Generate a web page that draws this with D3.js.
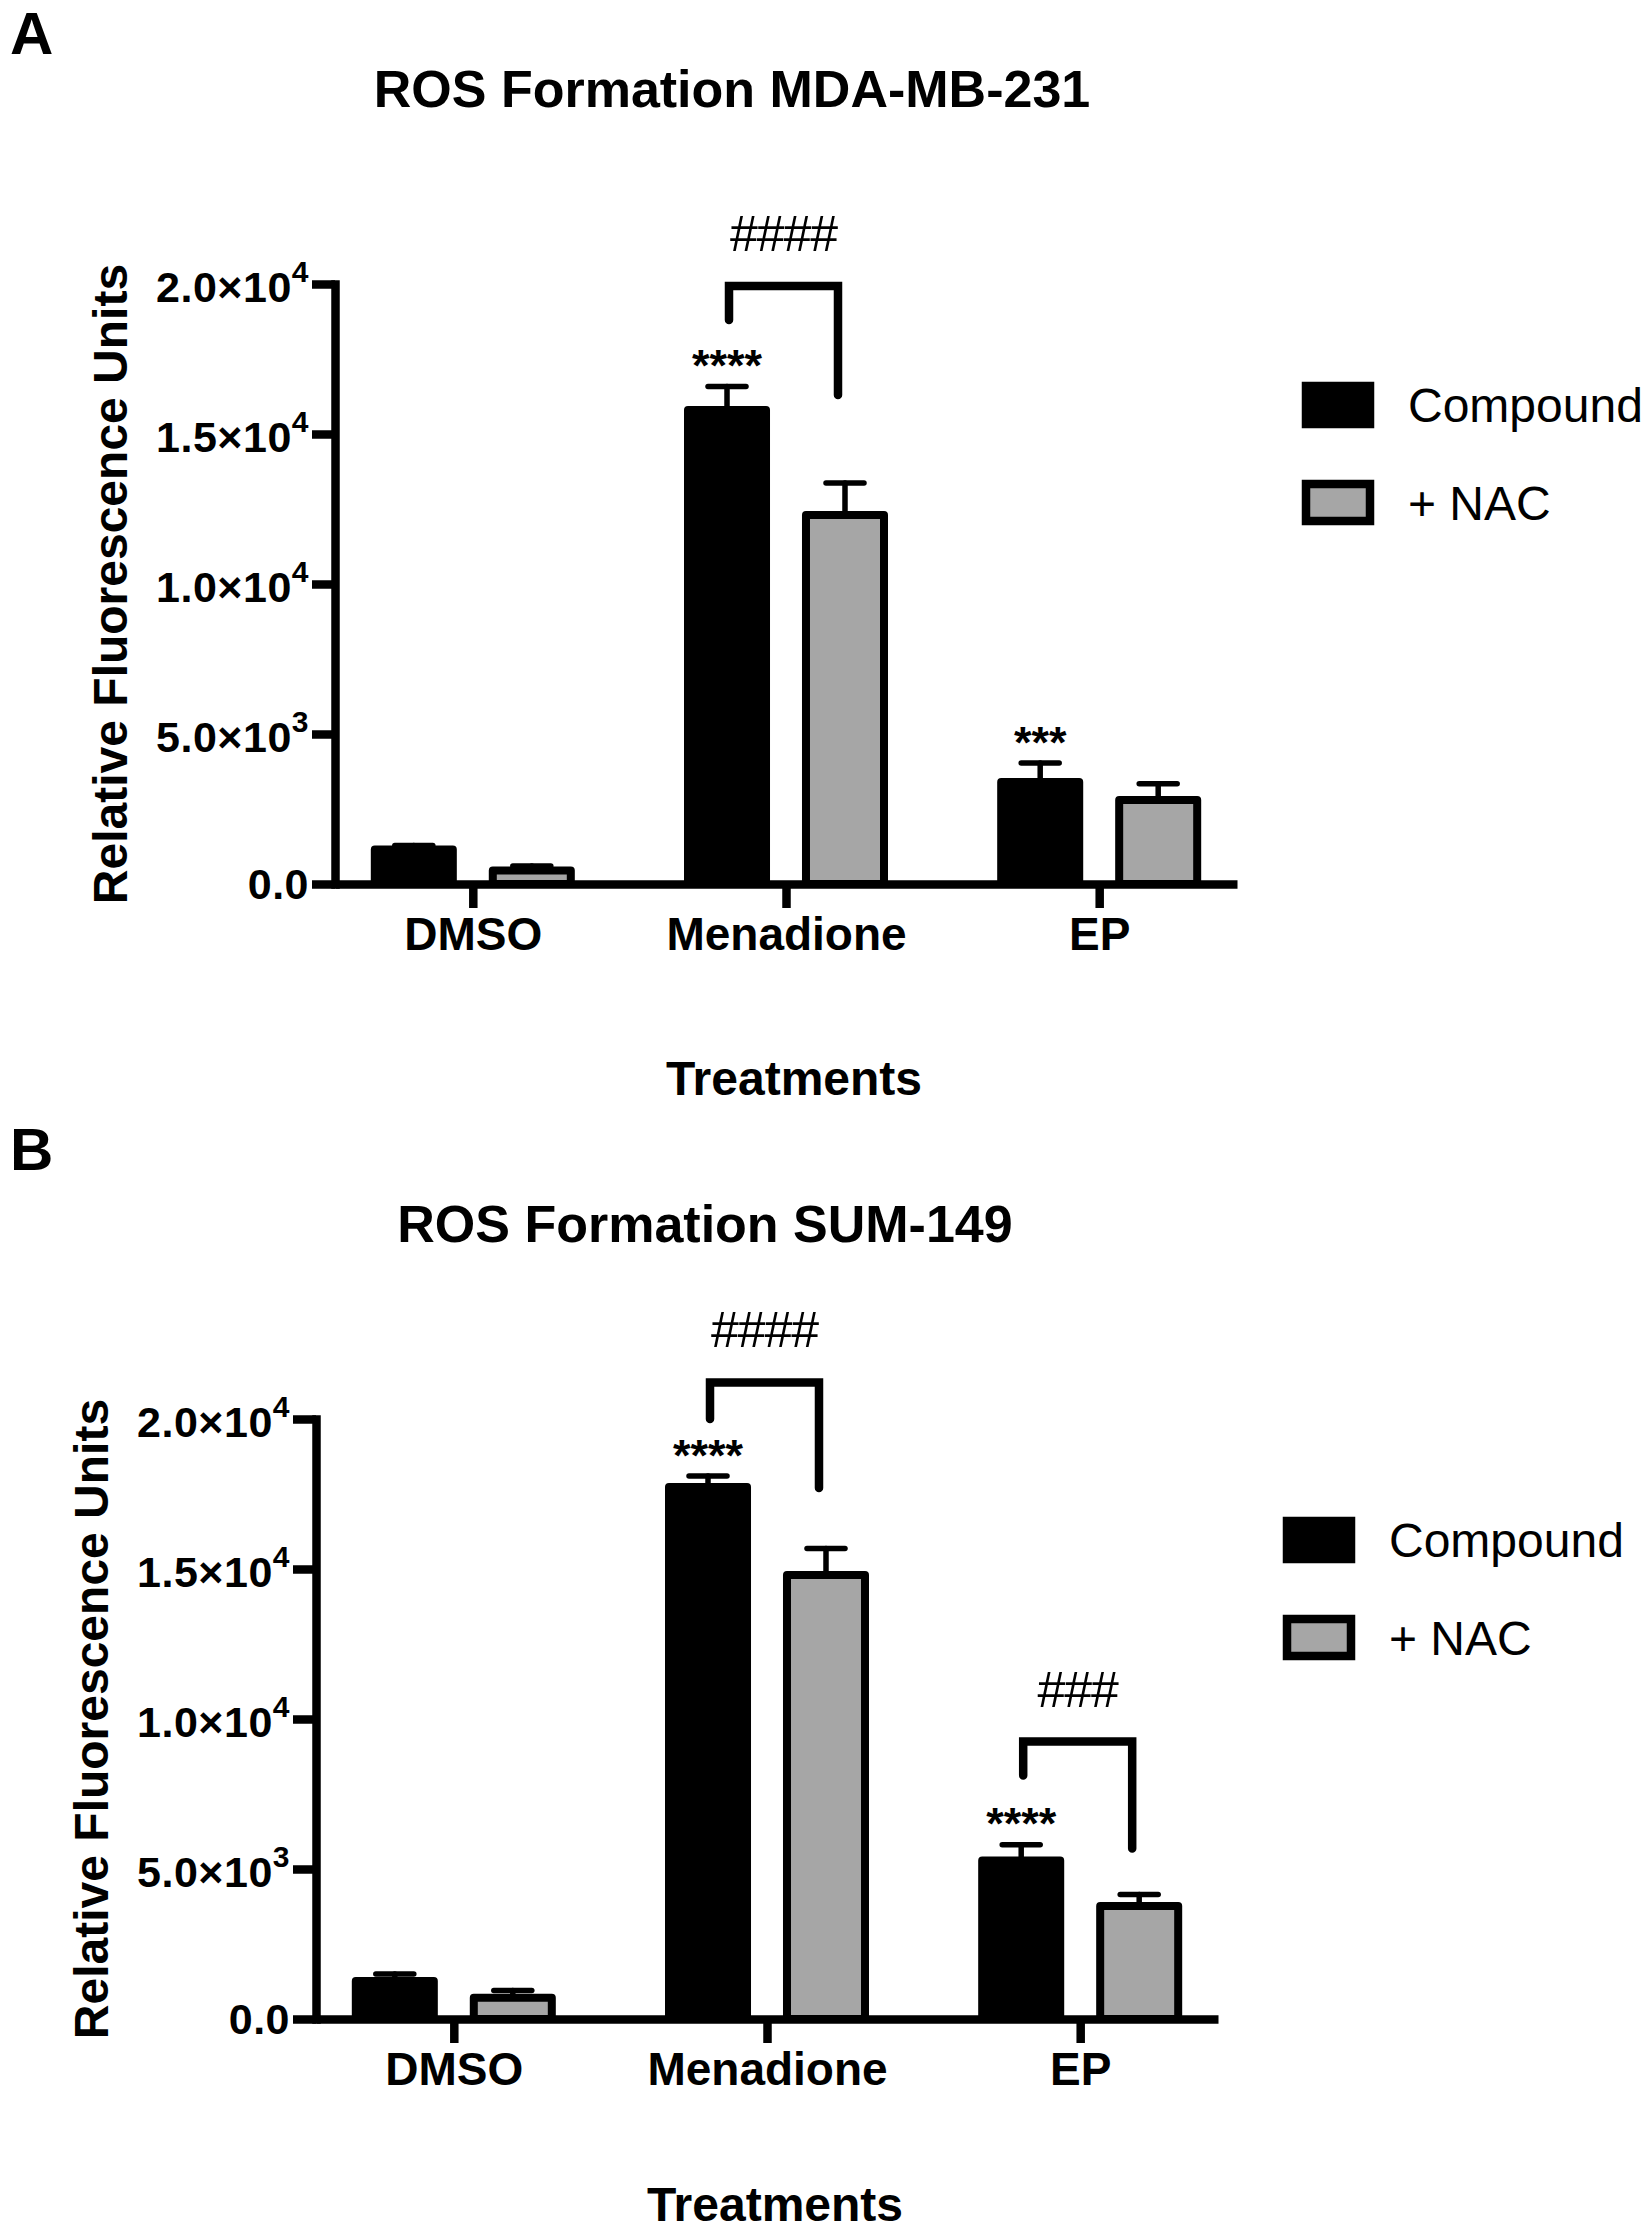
<!DOCTYPE html>
<html>
<head>
<meta charset="utf-8">
<script src="https://cdn.jsdelivr.net/npm/d3@7"></script>
<style>
  html, body { margin: 0; padding: 0; background: #ffffff; }
  svg { display: block; }
  text { font-family: "Liberation Sans", Arial, Helvetica, sans-serif; fill: #000; }
</style>
</head>
<body>
<svg id="chart" width="1646" height="2237"></svg>
<script>
// ---------------- DATA ----------------
const categories = ["DMSO", "Menadione", "EP"];
const seriesNames = ["Compound", "+ NAC"];

// Panel A: MDA-MB-231
const mdaCompound    = [1150, 15800, 3400];
const mdaCompoundErr = [130, 780, 630];
const mdaNac         = [450, 12300, 2800];
const mdaNacErr      = [150, 1070, 540];

// Panel B: SUM-149
const sumCompound    = [1270, 17730, 5280];
const sumCompoundErr = [230, 370, 530];
const sumNac         = [710, 14800, 3770];
const sumNacErr      = [240, 880, 380];

// Y axis ticks
const yTickValues = [0, 5000, 10000, 15000, 20000];
const yTickBase   = ["0.0", "5.0×10", "1.0×10", "1.5×10", "2.0×10"];
const yTickExp    = ["", "3", "4", "4", "4"];

// Significance marks
const mdaStars = [{cat: "Menadione", label: "****"}, {cat: "EP", label: "***"}];
const mdaBrackets = [{cat: "Menadione", top: 19930, left: 18800, right: 16300, label: "####"}];
const sumStars = [{cat: "Menadione", label: "****"}, {cat: "EP", label: "****"}];
const sumBrackets = [
  {cat: "Menadione", top: 21220, left: 20000, right: 17700, label: "####"},
  {cat: "EP", top: 9250, left: 8120, right: 5680, label: "###"}
];

// ---------------- STYLE / LAYOUT ----------------
const colors = {"Compound": "#000000", "+ NAC": "#a6a6a6"};
const FONT = '"Liberation Sans", Arial, Helvetica, sans-serif';

const panels = [
  {letter: "A", letterY: 54, title: "ROS Formation MDA-MB-231", titleX: 732,
   dx: 0, dy: 0, xTitleY: 1095,
   compound: mdaCompound, compoundErr: mdaCompoundErr, nac: mdaNac, nacErr: mdaNacErr,
   stars: mdaStars, brackets: mdaBrackets},
  {letter: "B", letterY: 1170, title: "ROS Formation SUM-149", titleX: 705,
   dx: -19, dy: 1135, xTitleY: 2221,
   compound: sumCompound, compoundErr: sumCompoundErr, nac: sumNac, nacErr: sumNacErr,
   stars: sumStars, brackets: sumBrackets}
];

const svg = d3.select("#chart");

function drawPanel(p) {
  // panel letter (absolute)
  svg.append("text")
    .attr("x", 10).attr("y", p.letterY)
    .attr("font-size", 60).attr("font-weight", "bold")
    .text(p.letter);

  const g = svg.append("g").attr("transform", `translate(${p.dx},${p.dy})`);

  const y = d3.scaleLinear().domain([0, 20000]).range([884, 284]);
  const x = d3.scalePoint().domain(categories).range([335, 1237]).padding(0.44);
  const x1 = d3.scaleBand().domain(seriesNames).range([-102, 102]).paddingInner(0.271);
  const bw = x1.bandwidth();
  const SW = 8;

  // title
  g.append("text")
    .attr("x", p.titleX - p.dx).attr("y", 107)
    .attr("text-anchor", "middle")
    .attr("font-size", 52).attr("font-weight", "bold")
    .text(p.title);

  // series data
  const series = [
    {name: "Compound", vals: p.compound, errs: p.compoundErr},
    {name: "+ NAC", vals: p.nac, errs: p.nacErr}
  ];
  const barData = [];
  series.forEach(s => {
    categories.forEach((c, i) => {
      barData.push({cat: c, name: s.name, v: s.vals[i], e: s.errs[i],
                    cx: x(c) + x1(s.name) + bw / 2});
    });
  });

  // bars
  g.append("g").selectAll("rect").data(barData).join("rect")
    .attr("x", d => x(d.cat) + x1(d.name) + SW / 2)
    .attr("width", bw - SW)
    .attr("y", d => y(d.v))
    .attr("height", d => y(0) - y(d.v))
    .attr("fill", d => colors[d.name])
    .attr("stroke", "#000")
    .attr("stroke-width", SW)
    .attr("stroke-linejoin", "round");

  // error bars (upper only)
  const eg = g.append("g")
    .attr("stroke", "#000").attr("stroke-width", 5.5).attr("stroke-linecap", "round");
  eg.selectAll("line.stem").data(barData).join("line").attr("class", "stem")
    .attr("x1", d => d.cx).attr("x2", d => d.cx)
    .attr("y1", d => y(d.v)).attr("y2", d => y(d.v + d.e));
  eg.selectAll("line.cap").data(barData).join("line").attr("class", "cap")
    .attr("x1", d => d.cx - 19).attr("x2", d => d.cx + 19)
    .attr("y1", d => y(d.v + d.e)).attr("y2", d => y(d.v + d.e));

  // Y axis
  const yAxis = d3.axisLeft(y).tickValues(yTickValues).tickSize(23).tickSizeOuter(0).tickFormat("");
  const yg = g.append("g").attr("transform", "translate(335,0)").call(yAxis);
  yg.select(".domain").attr("stroke-width", 8.5).attr("stroke-linecap", "square");
  yg.selectAll(".tick line").attr("stroke-width", 8.5);

  // Y tick labels with superscripts
  yTickValues.forEach((v, i) => {
    const t = g.append("text")
      .attr("x", 309)
      .attr("y", y(v) + (yTickExp[i] ? 18 : 15))
      .attr("text-anchor", "end")
      .attr("font-size", 43).attr("font-weight", "bold")
      .attr("letter-spacing", 0.5);
    t.append("tspan").text(yTickBase[i]);
    if (yTickExp[i]) {
      t.append("tspan").attr("font-size", 30).attr("dy", -20).text(yTickExp[i]);
    }
  });

  // X axis
  const xAxis = d3.axisBottom(x).tickSize(24).tickSizeOuter(0);
  const xg = g.append("g").attr("transform", `translate(0,${y(0)})`).call(xAxis);
  xg.select(".domain").attr("stroke-width", 8.5);
  xg.selectAll(".tick line").attr("stroke-width", 8.5);
  xg.selectAll(".tick text")
    .attr("y", 66).attr("dy", null)
    .attr("font-size", 46).attr("font-weight", "bold")
    .attr("font-family", FONT).attr("fill", "#000");

  // axis titles
  g.append("text")
    .attr("transform", `translate(127,${(y(0) + y(20000)) / 2}) rotate(-90)`)
    .attr("text-anchor", "middle")
    .attr("font-size", 48).attr("font-weight", "bold")
    .text("Relative Fluorescence Units");

  g.append("text")
    .attr("x", 794).attr("y", p.xTitleY - p.dy)
    .attr("text-anchor", "middle")
    .attr("font-size", 48).attr("font-weight", "bold")
    .text("Treatments");

  // stars above compound bars
  p.stars.forEach(s => {
    const i = categories.indexOf(s.cat);
    const cx = x(s.cat) + x1("Compound") + bw / 2;
    g.append("text")
      .attr("x", cx).attr("y", y(p.compound[i] + p.compoundErr[i]) - 5.5)
      .attr("text-anchor", "middle")
      .attr("font-size", 45).attr("font-weight", "bold")
      .text(s.label);
  });

  // brackets
  p.brackets.forEach(b => {
    const xl = x(b.cat) + x1("Compound") + bw / 2 + 2;
    const xr = x(b.cat) + x1("+ NAC") + bw / 2 - 7;
    g.append("path")
      .attr("d", `M${xl},${y(b.left)}V${y(b.top)}H${xr}V${y(b.right)}`)
      .attr("fill", "none").attr("stroke", "#000")
      .attr("stroke-width", 8.5).attr("stroke-linecap", "round")
      .attr("stroke-linejoin", "miter");
    g.append("text")
      .attr("x", (xl + xr) / 2).attr("y", y(b.top) - 35)
      .attr("text-anchor", "middle")
      .attr("font-size", 50)
      .attr("letter-spacing", -1)
      .text(b.label);
  });

  // legend
  const lg = g.append("g");
  seriesNames.forEach((n, i) => {
    const top = 386 + i * 98;
    lg.append("rect")
      .attr("x", 1306).attr("y", top).attr("width", 64).attr("height", 38 - i)
      .attr("fill", colors[n]).attr("stroke", "#000").attr("stroke-width", 8.5);
    lg.append("text")
      .attr("x", 1408).attr("y", top + 36)
      .attr("font-size", 48)
      .text(n);
  });
}

panels.forEach(drawPanel);
</script>
</body>
</html>
